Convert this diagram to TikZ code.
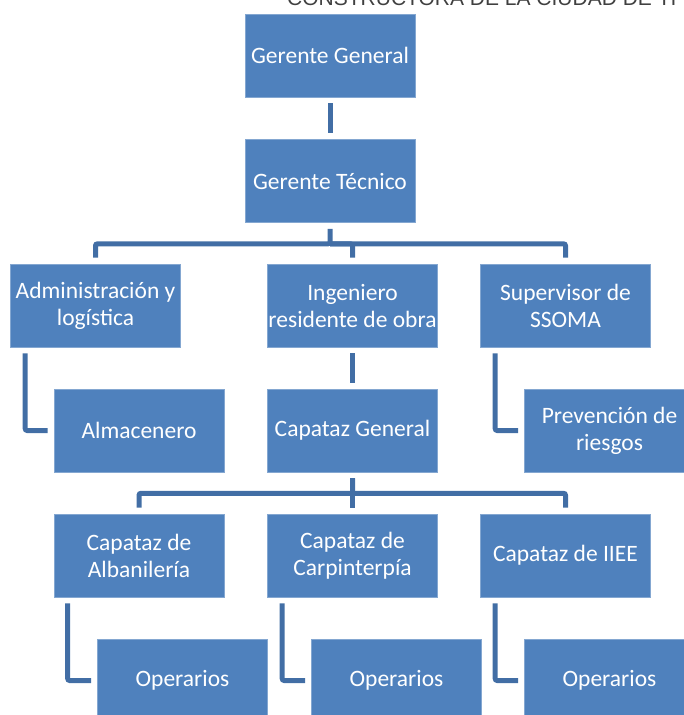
\documentclass[tikz,border=0pt]{standalone}
\usepackage{fontspec}
\setmainfont{Carlito}
\newfontfamily\headfont{Liberation Sans}
\usetikzlibrary{positioning}
\definecolor{boxblue}{RGB}{79,129,189}
\definecolor{lineblue}{RGB}{66,110,165}
\definecolor{headgray}{RGB}{64,64,64}

\begin{document}
\begin{tikzpicture}[x=1pt, y=-1pt,
        cargo/.style={rectangle, fill=boxblue, draw=boxblue!70!white, line width=0.6pt,
            text=white, font=\fontsize{23.5}{27}\selectfont, align=center,
            inner sep=0pt, minimum width=170pt, minimum height=83pt},
        enlace/.style={draw=lineblue, line width=5pt, rounded corners=2pt,
            shorten <=6pt, shorten >=6pt}]
        \useasboundingbox (0,0) rectangle (684,715);

        % title (cut by the page)
        \node[anchor=base west, inner sep=0pt, text=headgray,
            font=\headfont\fontsize{21}{25}\selectfont] (titulo) at (287,5)
            {CONSTRUCTORA DE LA CIUDAD DE TI};

        % top
        \node[cargo] (gg) at (330,55.5) {Gerente General};
        \node[cargo] (gt) at (330,181) {Gerente Técnico};

        % second level
        \node[cargo] (adm) at (95.5,305.5) {Administración y\\logística};
        \node[cargo] (ing) at (352.5,305.5) {Ingeniero\\residente de obra};
        \node[cargo] (sup) at (565.5,305.5) {Supervisor de\\SSOMA};

        % third level
        \node[cargo] (alm) at (139,430.5) {Almacenero};
        \node[cargo] (capg) at (352.5,430.5) {Capataz General};
        \node[cargo] (prev) at (609.5,430.5) {Prevención de\\riesgos};

        % capataces
        \node[cargo] (alb) at (139,555.5) {Capataz de\\Albanilería};
        \node[cargo] (carp) at (352.5,555.5) {Capataz de\\Carpinterpía};
        \node[cargo] (iiee) at (565.5,555.5) {Capataz de IIEE};

        % operarios
        \node[cargo] (op1) at (182.5,680.5) {Operarios};
        \node[cargo] (op2) at (396.5,680.5) {Operarios};
        \node[cargo] (op3) at (609.5,680.5) {Operarios};

        % connectors
        \draw[enlace] (gg.south) -- (gt.north);
        \draw[enlace] (gt.south) -- ++(0,21) coordinate (barra1) -| (adm.north);
        \draw[enlace, shorten <=0pt] (barra1) -| (ing.north);
        \draw[enlace, shorten <=0pt] (barra1) -| (sup.north);

        \draw[enlace] ([xshift=15pt]adm.south west) |- (alm.west);
        \draw[enlace] (ing.south) -- (capg.north);
        \draw[enlace] ([xshift=15pt]sup.south west) |- (prev.west);

        \draw[enlace] (capg.south) -- ++(0,21) coordinate (barra2) -| (alb.north);
        \draw[enlace, shorten <=0pt] (barra2) -| (iiee.north);
        \draw[enlace] (capg.south) -- (carp.north);

        \draw[enlace] ([xshift=14pt]alb.south west) |- (op1.west);
        \draw[enlace] ([xshift=15pt]carp.south west) |- (op2.west);
        \draw[enlace] ([xshift=15pt]iiee.south west) |- (op3.west);
\end{tikzpicture}
\end{document}
